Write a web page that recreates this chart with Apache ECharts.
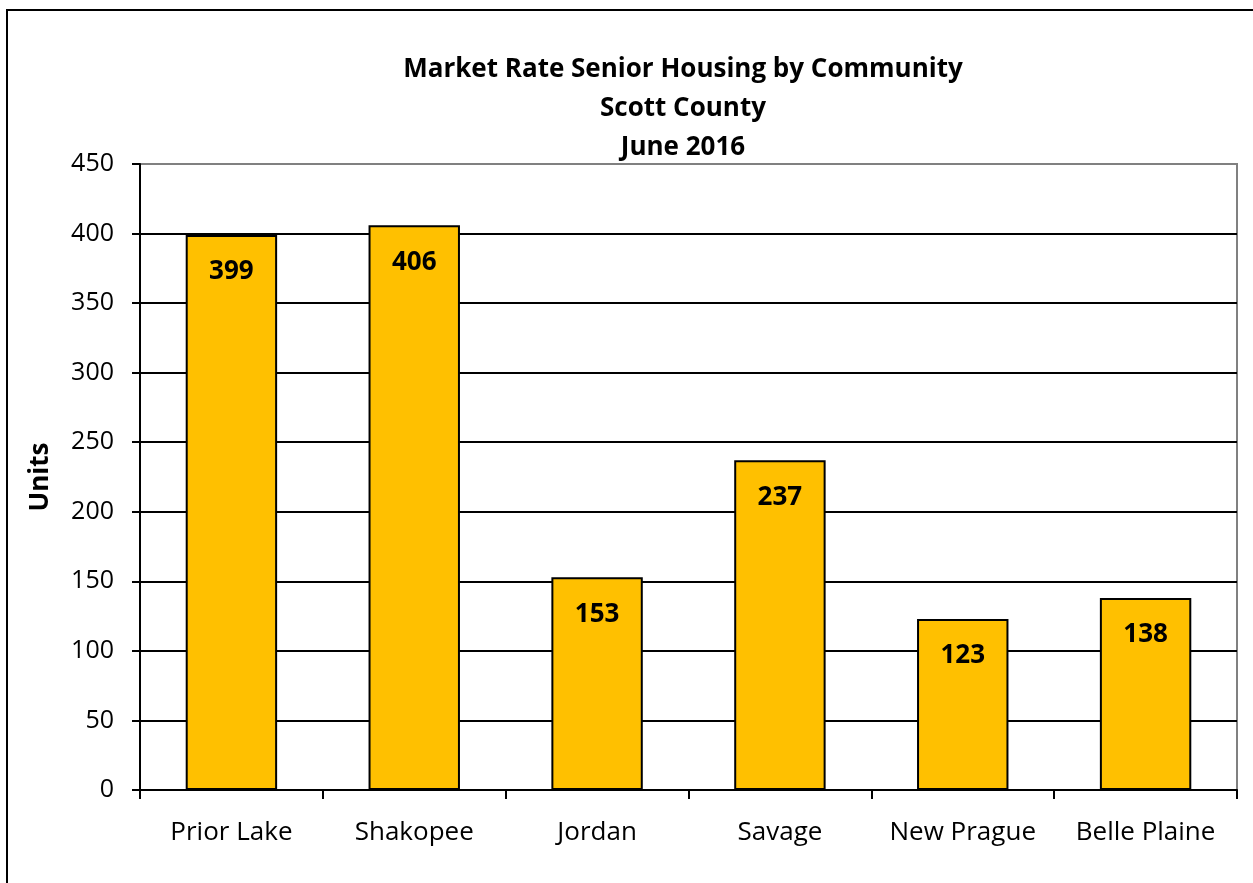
<!DOCTYPE html>
<html>
<head>
<meta charset="utf-8">
<script src="https://cdn.jsdelivr.net/npm/echarts@6/dist/echarts.min.js"></script>
<style>
  html, body { margin: 0; padding: 0; background: #fff; }
  #chart { width: 1253px; height: 883px; }
</style>
</head>
<body>
<div id="chart"></div>
<script>
// 数据
const communities = ['Prior Lake', 'Shakopee', 'Jordan', 'Savage', 'New Prague', 'Belle Plaine'];
const units = [399, 406, 153, 237, 123, 138];
const titleLines = ['Market Rate Senior Housing by Community', 'Scott County', 'June 2016'];

const FONT = '"Open Sans", Lato, sans-serif';

const chart = echarts.init(document.getElementById('chart'));

// 网格线颜色：最上面一条是灰色
const splitColors = ['#000', '#000', '#000', '#000', '#000', '#000', '#000', '#000', '#000', '#808080'];

const option = {
  backgroundColor: '#fff',
  animation: false,
  title: {
    text: titleLines.join('\n'),
    left: 678,
    textAlign: 'center',
    top: 45,
    textStyle: {
      fontFamily: FONT,
      fontSize: 26,
      fontWeight: 'bold',
      color: '#000',
      lineHeight: 39
    }
  },
  graphic: [{
    type: 'rect',
    shape: { x: 7, y: 10, width: 1270, height: 900 },
    style: { fill: null, stroke: '#000', lineWidth: 2 },
    silent: true
  }],
  grid: {
    left: 140,
    right: 16,
    top: 164,
    bottom: 93,
    show: true,
    borderColor: '#808080',
    borderWidth: 2
  },
  xAxis: {
    type: 'category',
    data: communities,
    axisLine: { lineStyle: { color: '#000', width: 2 } },
    axisTick: { show: true, length: 9, lineStyle: { color: '#000', width: 2 } },
    axisLabel: {
      fontFamily: FONT,
      fontSize: 26,
      color: '#000',
      margin: 30,
      interval: 0
    }
  },
  yAxis: {
    type: 'value',
    min: 0,
    max: 450,
    interval: 50,
    name: 'Units',
    nameLocation: 'middle',
    nameGap: 86,
    nameTextStyle: {
      fontFamily: FONT,
      fontSize: 26,
      fontWeight: 'bold',
      color: '#000'
    },
    axisLine: { show: true, lineStyle: { color: '#000', width: 2 } },
    axisTick: { show: true, length: 8, lineStyle: { color: '#000', width: 2 } },
    axisLabel: {
      fontFamily: FONT,
      fontSize: 25,
      color: '#000',
      margin: 26
    },
    splitLine: { show: true, lineStyle: { color: splitColors, width: 2 } }
  },
  series: [{
    type: 'bar',
    data: units,
    barWidth: '50%',
    itemStyle: {
      color: '#FFC000',
      borderColor: '#000',
      borderWidth: 2
    },
    label: {
      show: true,
      position: 'insideTop',
      distance: 24,
      fontFamily: FONT,
      fontSize: 26,
      fontWeight: 'bold',
      color: '#000'
    }
  }]
};

chart.setOption(option);
</script>
</body>
</html>
